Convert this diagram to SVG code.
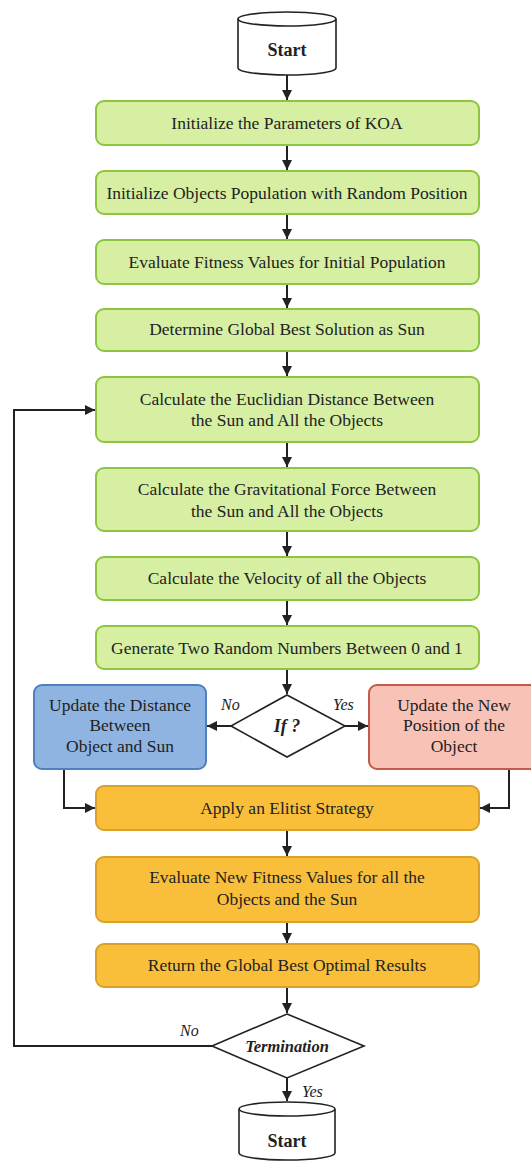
<svg xmlns="http://www.w3.org/2000/svg" width="531" height="1162" viewBox="0 0 531 1162">
<style>
  text { font-family: "Liberation Serif", "Times New Roman", "DejaVu Serif", serif; fill: #222; }
  .t { font-size: 17.5px; text-anchor: middle; dominant-baseline: central; }
  .b { font-weight: bold; font-size: 18px; text-anchor: middle; dominant-baseline: central; }
  .d { font-weight: bold; font-style: italic; font-size: 16.5px; text-anchor: middle; dominant-baseline: central; }
  .lab { font-style: italic; font-size: 16px; dominant-baseline: central; }
  .green { fill: #d6efa3; stroke: #8cc641; stroke-width: 2; }
  .orange { fill: #f9bf3b; stroke: #d9a12a; stroke-width: 2; }
  .blue { fill: #8fb4e1; stroke: #4f80bf; stroke-width: 2; }
  .red { fill: #f9c2b7; stroke: #c55a4b; stroke-width: 2; }
  .shape { fill: #fff; stroke: #222; stroke-width: 1.6; }
  .con { fill: none; stroke: #222; stroke-width: 2; }
</style>
<defs>
  <marker id="ah" viewBox="0 0 10 10" refX="10" refY="5" markerWidth="5" markerHeight="5" orient="auto" markerUnits="strokeWidth">
    <path d="M0,0 L10,5 L0,10 z" fill="#222"/>
  </marker>
</defs>
<rect width="531" height="1162" fill="#fff"/>

<g id="connectors">
  <line class="con" x1="287" y1="75" x2="287" y2="100" marker-end="url(#ah)"/>
  <line class="con" x1="287" y1="145" x2="287" y2="170" marker-end="url(#ah)"/>
  <line class="con" x1="287" y1="214" x2="287" y2="239" marker-end="url(#ah)"/>
  <line class="con" x1="287" y1="284" x2="287" y2="308" marker-end="url(#ah)"/>
  <line class="con" x1="287" y1="351" x2="287" y2="376" marker-end="url(#ah)"/>
  <line class="con" x1="287" y1="442" x2="287" y2="467" marker-end="url(#ah)"/>
  <line class="con" x1="287" y1="531" x2="287" y2="556" marker-end="url(#ah)"/>
  <line class="con" x1="287" y1="600" x2="287" y2="625" marker-end="url(#ah)"/>
  <line class="con" x1="287" y1="669" x2="287" y2="694" marker-end="url(#ah)"/>
  <line class="con" x1="231" y1="726" x2="207" y2="726" marker-end="url(#ah)"/>
  <line class="con" x1="345" y1="726" x2="368" y2="726" marker-end="url(#ah)"/>
  <polyline class="con" points="64,769 64,808 95,808" marker-end="url(#ah)"/>
  <polyline class="con" points="509,769 509,808 480,808" marker-end="url(#ah)"/>
  <line class="con" x1="287" y1="830" x2="287" y2="856" marker-end="url(#ah)"/>
  <line class="con" x1="287" y1="922" x2="287" y2="943" marker-end="url(#ah)"/>
  <line class="con" x1="287" y1="987" x2="287" y2="1013" marker-end="url(#ah)"/>
  <polyline class="con" points="212,1046 14,1046 14,410 95,410" marker-end="url(#ah)"/>
  <line class="con" x1="287" y1="1078" x2="287" y2="1101" marker-end="url(#ah)"/>
  <text class="lab" x="221" y="704">No</text>
  <text class="lab" x="333" y="704">Yes</text>
  <text class="lab" x="180" y="1030">No</text>
  <text class="lab" x="302" y="1091">Yes</text>
</g>

<g id="start">
  <path class="shape" d="M238,19 L238,68 A49,7 0 0 0 336,68 L336,19"/>
  <ellipse class="shape" cx="287" cy="19" rx="49" ry="7"/>
  <text class="b" x="287" y="50">Start</text>
</g>

<g id="init-params">
  <rect class="green" x="96" y="101" width="383" height="44" rx="8"/>
  <text class="t" x="287" y="123">Initialize the Parameters of KOA</text>
</g>
<g id="init-pop">
  <rect class="green" x="96" y="171" width="383" height="43" rx="8"/>
  <text class="t" x="287" y="192.5">Initialize Objects Population with Random Position</text>
</g>
<g id="eval-fitness">
  <rect class="green" x="96" y="240" width="383" height="44" rx="8"/>
  <text class="t" x="287" y="262">Evaluate Fitness Values for Initial Population</text>
</g>
<g id="global-best">
  <rect class="green" x="96" y="309" width="383" height="42" rx="8"/>
  <text class="t" x="287" y="329">Determine Global Best Solution as Sun</text>
</g>
<g id="euclid">
  <rect class="green" x="96" y="377" width="383" height="65" rx="8"/>
  <text class="t" x="287" y="399">Calculate the Euclidian Distance Between</text>
  <text class="t" x="287" y="420">the Sun and All the Objects</text>
</g>
<g id="gravity">
  <rect class="green" x="96" y="468" width="383" height="63" rx="8"/>
  <text class="t" x="287" y="489">Calculate the Gravitational Force Between</text>
  <text class="t" x="287" y="511">the Sun and All the Objects</text>
</g>
<g id="velocity">
  <rect class="green" x="96" y="557" width="383" height="43" rx="8"/>
  <text class="t" x="287" y="578">Calculate the Velocity of all the Objects</text>
</g>
<g id="random">
  <rect class="green" x="96" y="626" width="383" height="43" rx="8"/>
  <text class="t" x="287" y="647.5">Generate Two Random Numbers Between 0 and 1</text>
</g>
<g id="if">
  <polygon class="shape" points="287,695 345,726 287,757 231,726"/>
  <text class="d" x="287" y="726" style="font-size:18px">If ?</text>
</g>
<g id="update-distance">
  <rect class="blue" x="34" y="685" width="172" height="84" rx="8"/>
  <text class="t" x="120" y="705">Update the Distance</text>
  <text class="t" x="120" y="725">Between</text>
  <text class="t" x="120" y="746">Object and Sun</text>
</g>
<g id="update-position">
  <rect class="red" x="369" y="685" width="170" height="84" rx="8"/>
  <text class="t" x="454" y="705">Update the New</text>
  <text class="t" x="454" y="725">Position of the</text>
  <text class="t" x="454" y="746">Object</text>
</g>
<g id="elitist">
  <rect class="orange" x="96" y="786" width="383" height="44" rx="8"/>
  <text class="t" x="287" y="808">Apply an Elitist Strategy</text>
</g>
<g id="eval-new">
  <rect class="orange" x="96" y="857" width="383" height="65" rx="8"/>
  <text class="t" x="287" y="877">Evaluate New Fitness Values for all the</text>
  <text class="t" x="287" y="899">Objects and the Sun</text>
</g>
<g id="return-best">
  <rect class="orange" x="96" y="944" width="383" height="43" rx="8"/>
  <text class="t" x="287" y="965">Return the Global Best Optimal Results</text>
</g>
<g id="termination">
  <polygon class="shape" points="287,1014 364,1046 287,1078 212,1046"/>
  <text class="d" x="287" y="1046">Termination</text>
</g>
<g id="end">
  <path class="shape" d="M239,1109 L239,1153 A48,7 0 0 0 335,1153 L335,1109"/>
  <ellipse class="shape" cx="287" cy="1109" rx="48" ry="7"/>
  <text class="b" x="287" y="1141">Start</text>
</g>
</svg>
